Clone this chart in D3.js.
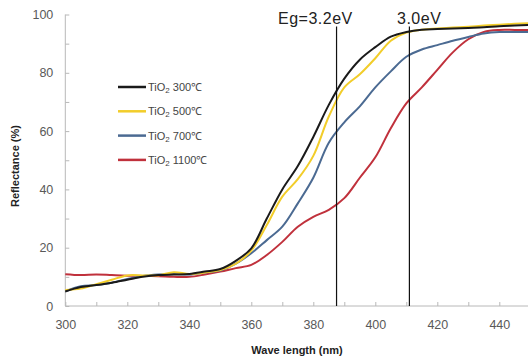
<!DOCTYPE html>
<html>
<head>
<meta charset="utf-8">
<script src="https://cdn.jsdelivr.net/npm/d3@7"></script>
<style>
  body { margin: 0; background: #fff; }
  svg { display: block; font-family: "Liberation Sans", Arial, sans-serif; }
</style>
</head>
<body>
<svg width="528" height="360"></svg>
<script>
// wavelengths (nm)
var wavelengths = [300,305,310,315,320,325,330,335,340,345,350,355,360,365,370,375,380,385,390,395,400,405,410,415,420,425,430,435,440,445,450];

// reflectance (%) per annealing temperature
var tio2_300  = [5,6.5,7.2,8,9,10,10.6,10.8,11,11.8,12.7,15.5,19.8,30,40,48,58,69,78,84.5,88.8,92.4,94,94.8,95,95.2,95.4,95.6,96,96.2,96.4];
var tio2_500  = [5.5,6,7.5,9,10.5,10.5,10.5,11.6,11,11.5,12.3,14.5,19,27.8,37.5,43.5,51.5,65,75,79.5,85,91,93.8,94.8,95.2,95.5,95.8,96.2,96.5,96.8,97];
var tio2_700  = [5,6.8,7.2,8,9.3,10.3,10.8,11,10.8,11.5,12.2,14.5,18.1,22.6,27.2,35.2,44,56,63,68.5,75,80.5,85.5,88,89.5,91,92.3,93.5,94,94,94];
var tio2_1100 = [10.9,10.6,10.8,10.6,10.4,10.3,10.2,10,10,10.8,11.8,13,14.1,17.5,22,27.2,30.6,33,37,44,51,61,69.5,75,81,87,91.5,94,94.7,94.7,94.7];

var seriesNames  = ["300℃","500℃","700℃","1100℃"];
var seriesColors = ["#1a1a1a","#f2cd2a","#4b6a92","#c0313c"];

// band gap markers
var markerNm     = [387.5, 411];
var markerLabels = ["Eg=3.2eV","3.0eV"];

var xTicks = d3.range(300, 451, 10);
var yTicks = d3.range(0, 101, 10);

function main(){
    var svg = d3.select("svg");

    var xScale = d3.scaleLinear().domain([300, 450]).range([65.3, 530.3]);
    var yScale = d3.scaleLinear().domain([0, 100]).range([306, 14.5]);

    var axisColor = "#b8b8b8",
        labelColor = "#595959";

    // x axis
    var xAxis = svg.append("g").attr("transform", "translate(0,306)")
        .call(d3.axisBottom(xScale).tickValues(xTicks).tickSize(-4)
            .tickFormat(function(d){ return d % 20 === 0 ? d : ""; }));
    xAxis.select(".domain").attr("stroke", axisColor).attr("d", "M65.3,0H528");
    xAxis.selectAll(".tick line").attr("stroke", axisColor);
    xAxis.selectAll(".tick text").attr("fill", labelColor).attr("font-size", 12.5)
        .attr("y", 14).attr("font-family", "Liberation Sans, Arial, sans-serif");

    // y axis
    var yAxis = svg.append("g").attr("transform", "translate(65.3,0)")
        .call(d3.axisLeft(yScale).tickValues(yTicks).tickSize(-4)
            .tickFormat(function(d){ return d % 20 === 0 ? d : ""; }));
    yAxis.select(".domain").attr("stroke", axisColor).attr("d", "M0,306V14.5");
    yAxis.selectAll(".tick line").attr("stroke", axisColor);
    yAxis.selectAll(".tick text").attr("fill", labelColor).attr("font-size", 12.5)
        .attr("x", -12).attr("font-family", "Liberation Sans, Arial, sans-serif");

    // axis titles
    svg.append("text")
        .attr("transform", "translate(19,166) rotate(-90)")
        .attr("text-anchor", "middle")
        .attr("font-size", 11).attr("font-weight", "bold").attr("fill", "#222")
        .text("Reflectance (%)");

    svg.append("text")
        .attr("x", 297).attr("y", 354)
        .attr("text-anchor", "middle")
        .attr("font-size", 11).attr("font-weight", "bold").attr("fill", "#222")
        .text("Wave length (nm)");

    // curves
    var allSeries = [tio2_300, tio2_500, tio2_700, tio2_1100];
    var line = d3.line()
        .x(function(d, i){ return xScale(wavelengths[i]); })
        .y(function(d){ return yScale(d); })
        .curve(d3.curveCatmullRom.alpha(0.5));

    svg.append("defs").append("clipPath").attr("id", "plot")
        .append("rect").attr("x", 65).attr("y", 0).attr("width", 470).attr("height", 306);

    // draw 1100 first so the black one ends up on top
    [3, 2, 1, 0].forEach(function(k){
        svg.append("path")
            .attr("clip-path", "url(#plot)")
            .attr("d", line(allSeries[k]))
            .attr("fill", "none")
            .attr("stroke", seriesColors[k])
            .attr("stroke-width", 2);
    });

    // band gap lines
    markerNm.forEach(function(nm, i){
        svg.append("line")
            .attr("x1", xScale(nm)).attr("x2", xScale(nm))
            .attr("y1", 26.5).attr("y2", 306)
            .attr("stroke", "#111").attr("stroke-width", 1.2);
    });
    svg.append("text").attr("x", 278).attr("y", 24)
        .attr("font-size", 16).attr("letter-spacing", 0.5).attr("fill", "#222")
        .text(markerLabels[0]);
    svg.append("text").attr("x", 397).attr("y", 24)
        .attr("font-size", 16).attr("letter-spacing", 0.5).attr("fill", "#222")
        .text(markerLabels[1]);

    // legend
    var legend = svg.append("g");
    seriesNames.forEach(function(name, i){
        var y = 87 + i * 24.3;
        legend.append("line")
            .attr("x1", 118).attr("x2", 146).attr("y1", y).attr("y2", y)
            .attr("stroke", seriesColors[i]).attr("stroke-width", 2.5);
        var t = legend.append("text").attr("x", 148).attr("y", y + 4)
            .attr("font-size", 11).attr("fill", "#444");
        t.append("tspan").text("TiO");
        t.append("tspan").attr("font-size", 8).attr("dy", 2).text("2");
        t.append("tspan").attr("dy", -2).text(" " + name);
    });
}

main();
</script>
</body>
</html>
